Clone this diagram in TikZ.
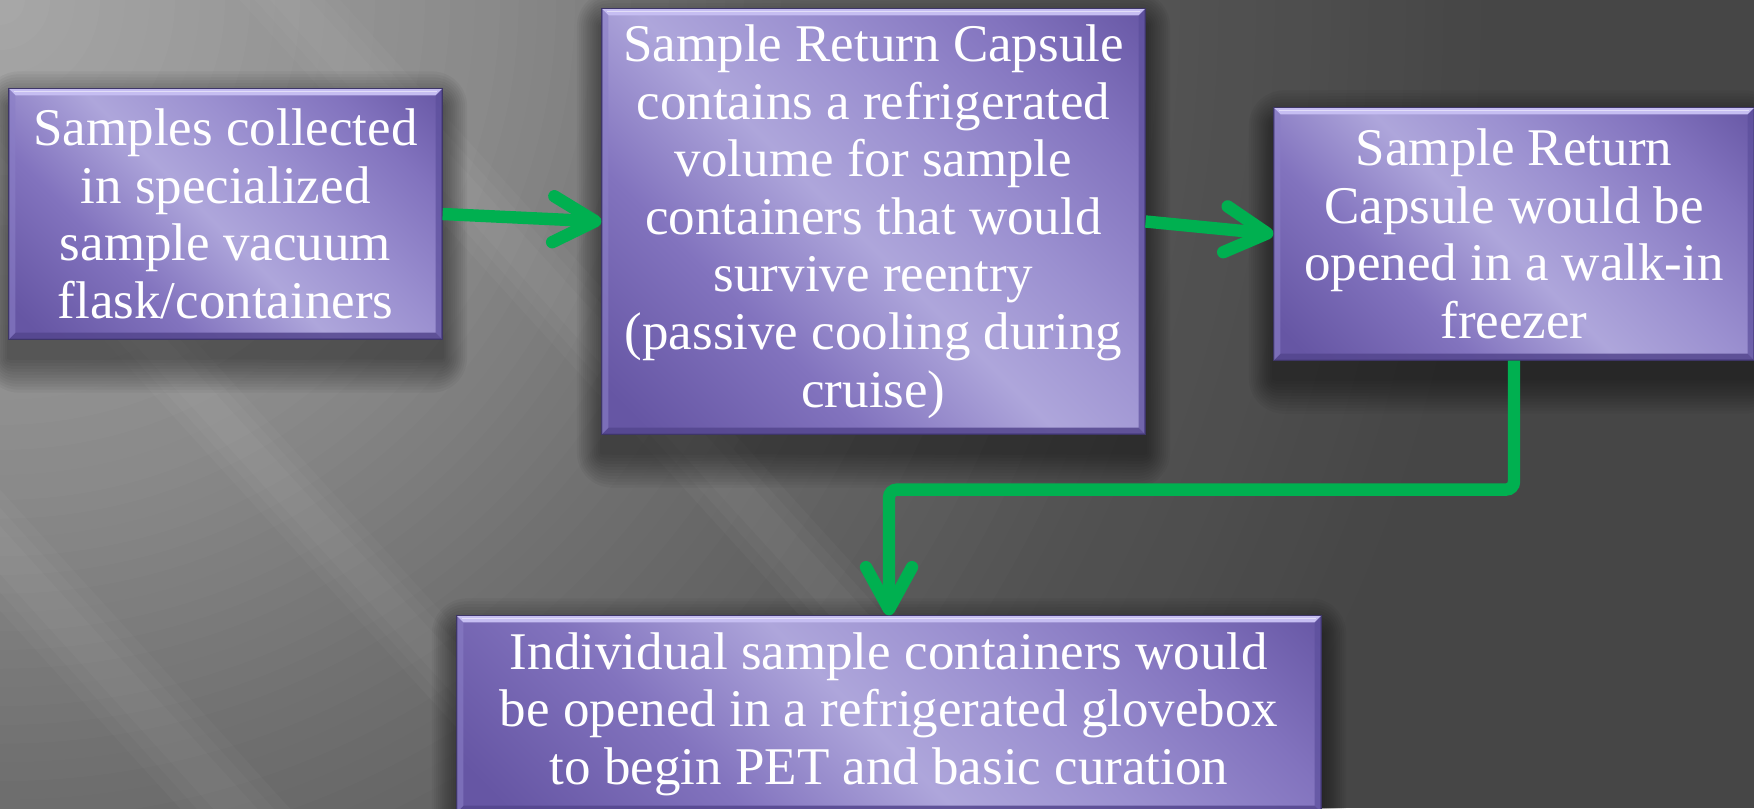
\documentclass[tikz,border=0pt]{standalone}
\usepackage{fontspec}
\setmainfont{Liberation Serif}
\usetikzlibrary{arrows.meta}

% background greys
\definecolor{bgA}{HTML}{A8A8A8}
\definecolor{bgB}{HTML}{8A8A8A}
\definecolor{bgC}{HTML}{6E6E6E}
\definecolor{bgD}{HTML}{525252}
\definecolor{bgE}{HTML}{464646}
% box purples
\definecolor{boxL}{HTML}{AEA6DB}
\definecolor{boxM}{HTML}{9B90D0}
\definecolor{boxN}{HTML}{8273BE}
\definecolor{boxD}{HTML}{6656A4}
\definecolor{boxline}{HTML}{3E3668}
\definecolor{bevtopc}{HTML}{C6BEF2}
\definecolor{bevbotc}{HTML}{54468E}
\definecolor{bevleftc}{HTML}{8A7EC6}
\definecolor{bevrightc}{HTML}{5C4F9C}
\definecolor{arrowgreen}{HTML}{00B050}

% diagonal sheen across every box
\pgfdeclarehorizontalshading{boxsheen}{100bp}{%
  color(0bp)=(boxD); color(18bp)=(boxD); color(34bp)=(boxN);
  color(48bp)=(boxL); color(60bp)=(boxM); color(74bp)=(boxN);
  color(86bp)=(boxD); color(100bp)=(boxD)}

\pgfdeclarelayer{backdrop}
\pgfdeclarelayer{shadowlayer}
\pgfsetlayers{backdrop,shadowlayer,main}

\tikzset{
  box/.style={shade, shading=boxsheen, shading angle=45,
    draw=boxline, line width=0.6pt,
    inner sep=0pt, align=center, text=white,
    font=\fontsize{26.5}{28.8}\selectfont},
  flow/.style={draw=arrowgreen, line width=6.2pt,
    -{Straight Barb[length=21pt, width=23pt, round]}},
  streak/.style={fill=white, opacity=0.028},
  shadowring/.style={fill=black, opacity=0.04}
}

% soft drop shadow under a box, built from widening translucent frames
\newcommand\boxshadow[1]{%
  \begin{pgfonlayer}{shadowlayer}
    \foreach \e in {1,2.5,4,5.5,7,8.5,10,11.5,13,14.5,16,17.5}{
      \fill[shadowring, rounded corners={\e pt}]
        ([xshift=-0.7*\e pt, yshift={\e pt-9pt}]#1.north west)
        rectangle ([xshift=0.7*\e pt, yshift={-\e pt-9pt}]#1.south east);
    }
  \end{pgfonlayer}
}

% chamfered bevel round a box
\newcommand\boxbevel[1]{%
  \fill[bevtopc] (#1.north west) -- (#1.north east)
    -- ([xshift=-3.5pt,yshift=-3.5pt]#1.north east)
    -- ([xshift=3.5pt,yshift=-3.5pt]#1.north west) -- cycle;
  \draw[white, opacity=0.5, line width=0.6pt]
    ([xshift=3pt,yshift=-1.6pt]#1.north west) -- ([xshift=-3pt,yshift=-1.6pt]#1.north east);
  \fill[bevbotc, opacity=0.85] (#1.south west) -- (#1.south east)
    -- ([xshift=-3.5pt,yshift=3.5pt]#1.south east)
    -- ([xshift=3.5pt,yshift=3.5pt]#1.south west) -- cycle;
  \fill[bevleftc, opacity=0.6] (#1.north west) -- (#1.south west)
    -- ([xshift=3.5pt,yshift=3.5pt]#1.south west)
    -- ([xshift=3.5pt,yshift=-3.5pt]#1.north west) -- cycle;
  \fill[bevrightc, opacity=0.7] (#1.north east) -- (#1.south east)
    -- ([xshift=-3.5pt,yshift=3.5pt]#1.south east)
    -- ([xshift=-3.5pt,yshift=-3.5pt]#1.north east) -- cycle;
  \draw[boxline, line width=0.6pt] (#1.north west) rectangle (#1.south east);
}

% concentric rings round the upper left corner: outer r, inner r,
% outer colour, inner colour, steps
\newcommand\ringband[5]{%
  \foreach \i in {0,...,#5}{
    \pgfmathsetmacro\rr{#1-(#1-#2)*\i/#5}
    \pgfmathtruncatemacro\pp{100*\i/#5}
    \fill[#4!\pp!#3] (0,0) circle[radius=\rr];
  }
}

% one soft diagonal band: #1 = x offset at the top edge, #2 = half width
\newcommand\lightband[2]{%
  \foreach \w in {1,0.7,0.4}{
    \fill[streak] ({#1-#2*\w},0) -- ({#1+#2*\w},0)
      -- ({#1+#2*\w+900},990) -- ({#1-#2*\w+900},990) -- cycle;
  }
}

\begin{document}
\begin{tikzpicture}[x=0.5pt, y=-0.5pt]
  \useasboundingbox (0,0) rectangle (1754,808);

  % backdrop
  \begin{pgfonlayer}{backdrop}
    \begin{scope}
      \clip (0,0) rectangle (1754,808);
      \fill[bgE] (0,0) rectangle (1754,808);
      \ringband{1500}{1200}{bgE}{bgD}{16}
      \ringband{1200}{800}{bgD}{bgC}{20}
      \ringband{800}{500}{bgC}{bgB}{16}
      \ringband{500}{0}{bgB}{bgA}{20}
      \lightband{-160}{45}
      \lightband{-500}{55}
      \lightband{290}{50}
    \end{scope}
  \end{pgfonlayer}

  % process steps
  \node[box, minimum width=216.5pt, minimum height=125pt] (b1) at (225.5,214)
    {Samples collected\\in specialized\\sample vacuum\\flask/containers};
  \node[box, minimum width=271.5pt, minimum height=212.5pt] (b2) at (873.5,221.5)
    {Sample Return Capsule\\contains a refrigerated\\volume for sample\\containers that would\\survive reentry\\(passive cooling during\\cruise)};
  \node[box, minimum width=240pt, minimum height=126pt] (b3) at (1514,234)
    {Sample Return\\Capsule would be\\opened in a walk-in\\freezer};
  \node[box, minimum width=432pt, minimum height=98pt] (b4) at (889,714)
    {Individual sample containers would\\be opened in a refrigerated glovebox\\to begin PET and basic curation};

  \boxshadow{b1}
  \boxshadow{b2}
  \boxshadow{b3}
  \boxshadow{b4}

  \boxbevel{b1}
  \boxbevel{b2}
  \boxbevel{b3}
  \boxbevel{b4}

  % connectors
  \draw[flow] (b1.east) -- (b2.west);
  \draw[flow] (b2.east) -- (b3.west);
  \draw[flow, rounded corners=4pt] (b3.south) -- ++(0,129) -| (b4.north);
\end{tikzpicture}
\end{document}
